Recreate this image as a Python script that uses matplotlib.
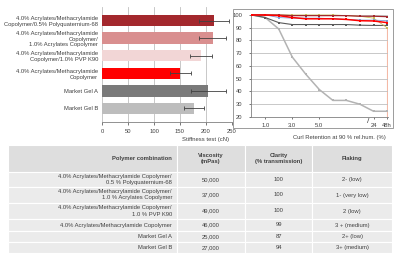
import matplotlib
matplotlib.use("Agg")
import matplotlib.pyplot as plt
from matplotlib.patches import Rectangle

plt.rcParams['font.family'] = ['Liberation Sans', 'DejaVu Sans']

# ---- data ----
bar_labels = [
    "4.0% Acrylates/Methacrylamide\nCopolymer/0.5% Polyquaternium-68",
    "4.0% Acrylates/Methacrylamide\nCopolymer/\n1.0% Acrylates Copolymer",
    "4.0% Acrylates/Methacrylamide\nCopolymer/1.0% PVP K90",
    "4.0% Acrylates/Methacrylamide\nCopolymer",
    "Market Gel A",
    "Market Gel B",
]
stiffness = [216, 213, 190, 151, 205, 177]
stiffness_err = [29, 26, 21, 20, 34, 19]
bar_colors = ['#a3282d', '#d98f8f', '#f2d6d6', '#ff0000', '#7a7a7a', '#bdbdbd']

curl_ticks = [1, 3, 5, 9, 10]
curl_ticklabels = ["1.0", "3.0", "5.0", "24", "48h"]
curl_x = list(range(11))
curl_dark_red = [100, 100, 100, 99.5, 99.5, 99.5, 99.5, 99.5, 99, 99, 98.7]
curl_olive = [100, 100, 100, 100, 100, 100, 100, 99.5, 99, 97.5, 90]
curl_blue = [100, 100, 98, 97.5, 97.5, 97.5, 97, 96.5, 96, 96, 95.5]
curl_red = [100, 100, 99.5, 98, 97, 97, 97, 96.5, 95.5, 95.3, 94]
curl_gel_a = [100, 98, 94, 92.5, 92.5, 92.5, 92.5, 92.5, 92, 91.8, 91.8]
curl_gel_b = [100, 98, 89, 67, 53.5, 41.5, 33, 33, 30, 24.5, 24.5]

table_header = ["Polymer combination", "Viscosity\n(mPas)", "Clarity\n(% transmission)", "Flaking"]
table_polymer = [
    "4.0% Acrylates/Methacrylamide Copolymer/\n0.5 % Polyquaternium-68",
    "4.0% Acrylates/Methacrylamide Copolymer/\n1.0 % Acrylates Copolymer",
    "4.0% Acrylates/Methacrylamide Copolymer/\n1.0 % PVP K90",
    "4.0% Acrylates/Methacrylamide Copolymer",
    "Market Gel A",
    "Market Gel B",
]
table_viscosity = ["50,000", "37,000", "49,000", "46,000", "25,000", "27,000"]
table_clarity = ["100", "100", "100", "99", "87", "94"]
table_flaking = ["2- (low)", "1- (very low)", "2 (low)", "3 + (medium)", "2+ (low)", "3+ (medium)"]

W, H = 400, 257
fig = plt.figure(figsize=(W / 100, H / 100), dpi=100)
txt = '#404040'
fs = 4.2


def box(x0, y0, x1, y1):
    # pixel box (top-left origin) -> figure fraction
    return [x0 / W, 1 - y1 / H, (x1 - x0) / W, (y1 - y0) / H]


# ---- bar chart ----
ax = fig.add_axes(box(102.3, 7, 231.7, 122))
ypos = list(range(len(stiffness)))
ax.barh(ypos, stiffness, height=0.65, color=bar_colors, zorder=2)
ax.errorbar(stiffness, ypos, xerr=stiffness_err, fmt='none', ecolor='#404040',
            elinewidth=0.6, capsize=1.5, capthick=0.6, zorder=3)
ax.set_ylim(5.77, -0.77)
ax.set_xlim(0, 250)
ax.set_xticks([0, 50, 100, 150, 200, 250])
ax.set_yticks(ypos)
ax.set_yticklabels(bar_labels, fontsize=fs, color=txt, linespacing=1.2)
ax.tick_params(axis='y', length=0, pad=3)
ax.tick_params(axis='x', labelsize=fs, colors=txt, length=2, width=0.5, pad=3)
ax.grid(axis='x', color='#bfbfbf', lw=0.6, zorder=0)
for s in ['top', 'right', 'left']:
    ax.spines[s].set_visible(False)
ax.spines['bottom'].set_color('#808080')
ax.spines['bottom'].set_linewidth(0.6)
ax.set_xlabel("Stiffness test (cN)", fontsize=fs, color=txt)
ax.xaxis.set_label_coords(0.8, -0.13)

# ---- curl retention chart ----
fig.patches.append(Rectangle((233 / W, 1 - 128 / H), 160 / W, 119 / H,
                             transform=fig.transFigure, fill=False,
                             edgecolor='#8c8c8c', lw=0.6))
lx = fig.add_axes(box(251, 13.7, 388.4, 117))
lx.set_xlim(-0.05, 10.1)
lx.set_ylim(20, 101)
lx.set_yticks(range(20, 101, 10))
lx.grid(axis='y', color='#bfbfbf', lw=0.6, zorder=0)
lx.vlines(10, 20, 90, color='#f4b9a6', lw=0.8, zorder=1)
series = [
    (curl_gel_b, '#b3b3b3', 1.1),
    (curl_gel_a, '#595959', 0.8),
    (curl_olive, '#c9b95a', 0.6),
    (curl_blue, '#7f9fd6', 0.6),
    (curl_dark_red, '#a3282d', 0.9),
    (curl_red, '#ff0000', 1.1),
]
for vals, col, lw in series:
    lx.plot(curl_x, vals, color=col, lw=lw, marker='s', markersize=1.8,
            markeredgewidth=0, zorder=3)
lx.set_xticks(curl_ticks)
lx.set_xticklabels(curl_ticklabels)
lx.tick_params(labelsize=fs, colors=txt, length=1.5, width=0.5)
lx.tick_params(axis='y', pad=5)
lx.tick_params(axis='x', pad=3)
for s in ['top', 'right']:
    lx.spines[s].set_visible(False)
for s in ['left', 'bottom']:
    lx.spines[s].set_color('#808080')
    lx.spines[s].set_linewidth(0.6)
lx.text(8.6, 16.5, "/", fontsize=6, color=txt, ha='center', va='center', clip_on=False)
fig.text(339 / W, 1 - 138 / H, "Curl Retention at 90 % rel.hum. (%)", fontsize=fs,
         color=txt, ha='center', va='center')

# ---- table ----
col_w = [169, 68, 67, 80]
row_h = [27, 15, 16, 16, 12, 11, 11]
tx = fig.add_axes(box(8, 145, 392, 253))
tx.set_xlim(0, sum(col_w))
tx.set_ylim(sum(row_h), 0)
tx.axis('off')

rows = [table_header] + [list(r) for r in zip(table_polymer, table_viscosity,
                                              table_clarity, table_flaking)]
y0 = 0
for ri, (row, h) in enumerate(zip(rows, row_h)):
    x0 = 0
    for ci, (cell, w) in enumerate(zip(row, col_w)):
        tx.add_patch(Rectangle((x0, y0), w, h, facecolor='#dedede' if ri == 0 else '#ebebeb',
                               edgecolor='white', lw=0.8))
        if ci == 0:
            tx.text(x0 + w - 5, y0 + h / 2, cell, ha='right', va='center', fontsize=fs,
                    color=txt, linespacing=1.25, fontweight='bold' if ri == 0 else 'normal')
        else:
            tx.text(x0 + w / 2, y0 + h / 2, cell, ha='center', va='center', fontsize=fs,
                    color=txt, linespacing=1.25, fontweight='bold' if ri == 0 else 'normal')
        x0 += w
    y0 += h

fig.savefig("out.png", dpi=100)
